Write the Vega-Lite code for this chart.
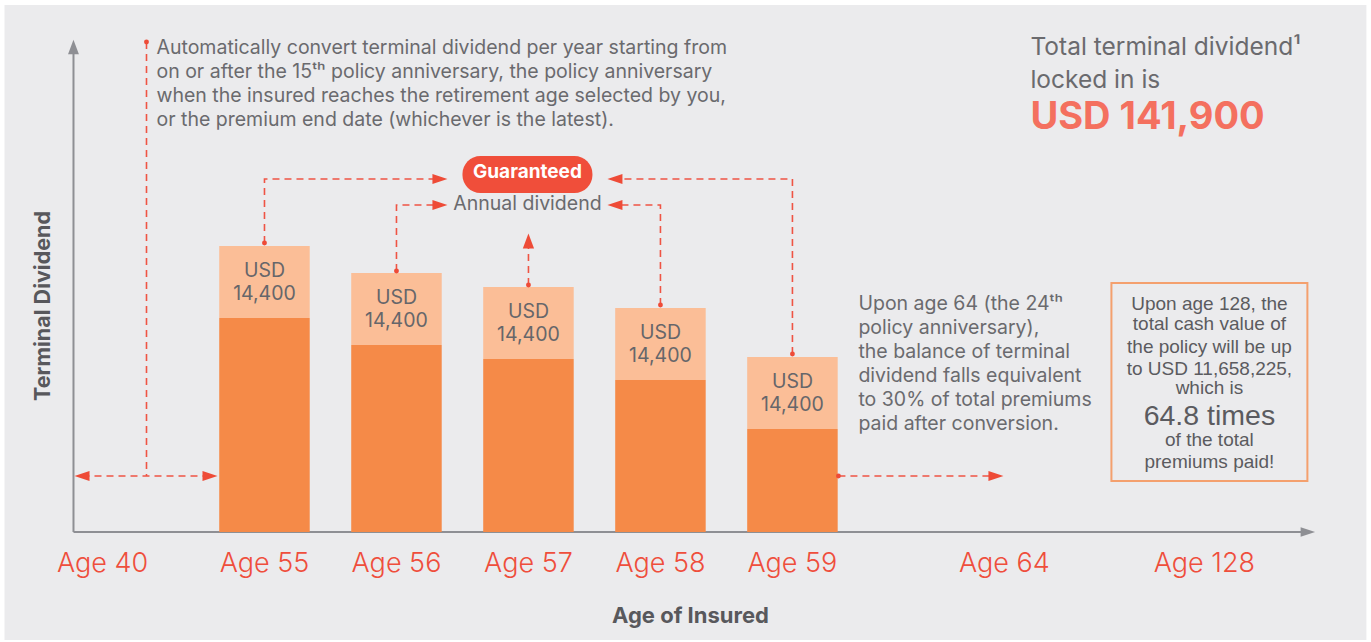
{
  "$schema": "https://vega.github.io/schema/vega-lite/v6.json",
  "width": 1371,
  "height": 642,
  "padding": 0,
  "autosize": {"type": "fit", "contains": "padding"},
  "background": "#ffffff",
  "config": {"view": {"stroke": null}, "font": "Inter"},
  "encoding": {
    "x": {"field": "x", "type": "quantitative", "scale": {"domain": [-0.9659, 9.3455], "nice": false, "zero": false}, "axis": null},
    "y": {"field": "y", "type": "quantitative", "scale": {"domain": [-22000, 106400], "nice": false, "zero": false}, "axis": null}
  },
  "layer": [
    {
      "data": {"values": [{"x": -0.9697, "y": 105400, "x2": 9.3485, "y2": -21600}]},
      "mark": {"type": "rect", "fill": "#EBEBED"},
      "encoding": {"x2": {"field": "x2"}, "y2": {"field": "y2"}}
    },
    {
      "data": {"values": [
        {"x": -0.447, "y": 0, "x2": -0.447, "y2": 95600},
        {"x": -0.447, "y": 0, "x2": 8.8636, "y2": 0}
      ]},
      "mark": {"type": "rule", "stroke": "#8E8F94", "strokeWidth": 2},
      "encoding": {"x2": {"field": "x2"}, "y2": {"field": "y2"}}
    },
    {
      "data": {"values": [
        {"dir": "up", "x": -0.447, "y": 97000},
        {"dir": "right", "x": 8.9053, "y": 0}
      ]},
      "mark": {"type": "point", "filled": true, "fill": "#8E8F94", "opacity": 1, "strokeWidth": 0, "size": 210},
      "encoding": {
        "shape": {"field": "dir", "type": "nominal", "scale": {"domain": ["right", "left", "up"], "range": ["M-1,-0.667L1,0L-1,0.667Z", "M1,-0.667L-1,0L1,0.667Z", "M-0.75,1L0,-1L0.75,1Z"]}, "legend": null}
      }
    },
    {
      "data": {"values": [
        {"age": "Age 55", "slot": 1, "part": "Remaining terminal dividend", "value": 42800},
        {"age": "Age 55", "slot": 1, "part": "Converted annual dividend", "value": 14400},
        {"age": "Age 56", "slot": 2, "part": "Remaining terminal dividend", "value": 37400},
        {"age": "Age 56", "slot": 2, "part": "Converted annual dividend", "value": 14400},
        {"age": "Age 57", "slot": 3, "part": "Remaining terminal dividend", "value": 34600},
        {"age": "Age 57", "slot": 3, "part": "Converted annual dividend", "value": 14400},
        {"age": "Age 58", "slot": 4, "part": "Remaining terminal dividend", "value": 30400},
        {"age": "Age 58", "slot": 4, "part": "Converted annual dividend", "value": 14400},
        {"age": "Age 59", "slot": 5, "part": "Remaining terminal dividend", "value": 20600},
        {"age": "Age 59", "slot": 5, "part": "Converted annual dividend", "value": 14400}
      ]},
      "mark": {"type": "bar", "width": 90.5},
      "encoding": {
        "x": {"field": "slot", "type": "quantitative", "scale": {"domain": [-0.9659, 9.3455], "nice": false, "zero": false}, "axis": null},
        "y": {"field": "value", "type": "quantitative", "stack": "zero", "scale": {"domain": [-22000, 106400], "nice": false, "zero": false}, "axis": null},
        "color": {"field": "part", "type": "nominal", "scale": {"domain": ["Remaining terminal dividend", "Converted annual dividend"], "range": ["#F58A48", "#FBBE97"]}, "legend": null},
        "order": {"field": "part", "sort": "descending"}
      }
    },
    {
      "data": {"values": [
        {"x": 1, "y": 57200, "text": "USD"},
        {"x": 2, "y": 51800, "text": "USD"},
        {"x": 3, "y": 49000, "text": "USD"},
        {"x": 4, "y": 44800, "text": "USD"},
        {"x": 5, "y": 35000, "text": "USD"}
      ]},
      "mark": {"type": "text", "fontSize": 19.5, "color": "#66666A", "align": "center", "baseline": "middle", "dy": 25},
      "encoding": {"text": {"field": "text"}}
    },
    {
      "data": {"values": [
        {"x": 1, "y": 57200, "amount": 14400},
        {"x": 2, "y": 51800, "amount": 14400},
        {"x": 3, "y": 49000, "amount": 14400},
        {"x": 4, "y": 44800, "amount": 14400},
        {"x": 5, "y": 35000, "amount": 14400}
      ]},
      "mark": {"type": "text", "fontSize": 19.5, "color": "#66666A", "align": "center", "baseline": "middle", "dy": 48},
      "encoding": {"text": {"field": "amount", "type": "quantitative", "format": ","}}
    },
    {
      "data": {"values": [
        {"path": "a", "seq": 0, "x": 0.1061, "y": 98000},
        {"path": "a", "seq": 1, "x": 0.1061, "y": 11200},
        {"path": "b", "seq": 0, "x": -0.3788, "y": 11200},
        {"path": "b", "seq": 1, "x": 0.5833, "y": 11200},
        {"path": "c", "seq": 0, "x": 1, "y": 57800},
        {"path": "c", "seq": 1, "x": 1, "y": 70600},
        {"path": "c", "seq": 2, "x": 2.3333, "y": 70600},
        {"path": "d", "seq": 0, "x": 2, "y": 52200},
        {"path": "d", "seq": 1, "x": 2, "y": 65400},
        {"path": "d", "seq": 2, "x": 2.3333, "y": 65400},
        {"path": "e", "seq": 0, "x": 3, "y": 49400},
        {"path": "e", "seq": 1, "x": 3, "y": 57200},
        {"path": "f", "seq": 0, "x": 4, "y": 45400},
        {"path": "f", "seq": 1, "x": 4, "y": 65400},
        {"path": "f", "seq": 2, "x": 3.6591, "y": 65400},
        {"path": "g", "seq": 0, "x": 5, "y": 35600},
        {"path": "g", "seq": 1, "x": 5, "y": 70600},
        {"path": "g", "seq": 2, "x": 3.6591, "y": 70600},
        {"path": "h", "seq": 0, "x": 5.3485, "y": 11200},
        {"path": "h", "seq": 1, "x": 6.5455, "y": 11200}
      ]},
      "mark": {"type": "line", "stroke": "#EF5444", "strokeWidth": 1.6, "strokeDash": [7, 5]},
      "encoding": {"detail": {"field": "path"}, "order": {"field": "seq", "type": "quantitative"}}
    },
    {
      "data": {"values": [
        {"x": 0.1061, "y": 98000},
        {"x": 1, "y": 57800},
        {"x": 2, "y": 52200},
        {"x": 3, "y": 49400},
        {"x": 4, "y": 45400},
        {"x": 5, "y": 35600},
        {"x": 5.3485, "y": 11200}
      ]},
      "mark": {"type": "point", "shape": "circle", "filled": true, "fill": "#EE4B37", "opacity": 1, "strokeWidth": 0, "size": 24}
    },
    {
      "data": {"values": [
        {"dir": "left", "x": -0.3826, "y": 11200},
        {"dir": "right", "x": 0.5871, "y": 11200},
        {"dir": "right", "x": 2.3295, "y": 70600},
        {"dir": "right", "x": 2.3295, "y": 65400},
        {"dir": "up", "x": 3, "y": 58200},
        {"dir": "left", "x": 3.6553, "y": 65400},
        {"dir": "left", "x": 3.6553, "y": 70600},
        {"dir": "right", "x": 6.5417, "y": 11200}
      ]},
      "mark": {"type": "point", "filled": true, "fill": "#EE4B37", "opacity": 1, "strokeWidth": 0, "size": 225},
      "encoding": {
        "shape": {"field": "dir", "type": "nominal", "scale": {"domain": ["right", "left", "up"], "range": ["M-1,-0.667L1,0L-1,0.667Z", "M1,-0.667L-1,0L1,0.667Z", "M-0.667,1L0,-1L0.667,1Z"]}, "legend": null}
      }
    },
    {
      "data": {"values": [{"x": 2.5, "y": 75200, "x2": 3.4848, "y2": 67800}]},
      "mark": {"type": "rect", "fill": "#F04E3A", "cornerRadius": 18},
      "encoding": {"x2": {"field": "x2"}, "y2": {"field": "y2"}}
    },
    {
      "data": {"values": [{"x": 2.9924, "y": 72000, "text": "Guaranteed"}]},
      "mark": {"type": "text", "fontSize": 19, "fontWeight": "bold", "color": "#FFFFFF", "align": "center", "baseline": "middle"},
      "encoding": {"text": {"field": "text"}}
    },
    {
      "data": {"values": [{"x": 2.9924, "y": 65600, "text": "Annual dividend"}]},
      "mark": {"type": "text", "fontSize": 19.5, "color": "#6A6A6E", "align": "center", "baseline": "middle"},
      "encoding": {"text": {"field": "text"}}
    },
    {
      "data": {"values": [
        {"x": 0.1818, "y": 96800, "text": "Automatically convert terminal dividend per year starting from"},
        {"x": 0.1818, "y": 92000, "text": "on or after the 15ᵗʰ policy anniversary, the policy anniversary"},
        {"x": 0.1818, "y": 87200, "text": "when the insured reaches the retirement age selected by you,"},
        {"x": 0.1818, "y": 82400, "text": "or the premium end date (whichever is the latest)."}
      ]},
      "mark": {"type": "text", "fontSize": 19.5, "color": "#6A6A6E", "align": "left", "baseline": "middle"},
      "encoding": {"text": {"field": "text"}}
    },
    {
      "data": {"values": [
        {"x": 6.803, "y": 96800, "text": "Total terminal dividend¹"},
        {"x": 6.803, "y": 90300, "text": "locked in is"}
      ]},
      "mark": {"type": "text", "fontSize": 24.5, "color": "#6A6A6E", "align": "left", "baseline": "middle"},
      "encoding": {"text": {"field": "text"}}
    },
    {
      "data": {"values": [{"x": 6.803, "y": 82800, "text": "USD 141,900"}]},
      "mark": {"type": "text", "fontSize": 38, "fontWeight": "bold", "color": "#F4705F", "align": "left", "baseline": "middle"},
      "encoding": {"text": {"field": "text"}}
    },
    {
      "data": {"values": [
        {"x": 5.5, "y": 45600, "text": "Upon age 64 (the 24ᵗʰ"},
        {"x": 5.5, "y": 40800, "text": "policy anniversary),"},
        {"x": 5.5, "y": 36000, "text": "the balance of terminal"},
        {"x": 5.5, "y": 31200, "text": "dividend falls equivalent"},
        {"x": 5.5, "y": 26400, "text": "to 30% of total premiums"},
        {"x": 5.5, "y": 21600, "text": "paid after conversion."}
      ]},
      "mark": {"type": "text", "fontSize": 19.5, "color": "#6A6A6E", "align": "left", "baseline": "middle"},
      "encoding": {"text": {"field": "text"}}
    },
    {
      "data": {"values": [{"x": 7.4167, "y": 49800, "x2": 8.9015, "y2": 10200}]},
      "mark": {"type": "rect", "filled": false, "stroke": "#F4A06E", "strokeWidth": 2},
      "encoding": {"x2": {"field": "x2"}, "y2": {"field": "y2"}}
    },
    {
      "data": {"values": [
        {"x": 8.1591, "y": 45600, "text": "Upon age 128, the"},
        {"x": 8.1591, "y": 41600, "text": "total cash value of"},
        {"x": 8.1591, "y": 37000, "text": "the policy will be up"},
        {"x": 8.1591, "y": 32600, "text": "to USD 11,658,225,"},
        {"x": 8.1591, "y": 28800, "text": "which is"},
        {"x": 8.1591, "y": 18400, "text": "of the total"},
        {"x": 8.1591, "y": 14000, "text": "premiums paid!"}
      ]},
      "mark": {"type": "text", "font": "Liberation Sans", "fontSize": 19, "color": "#5B5B5F", "align": "center", "baseline": "middle"},
      "encoding": {"text": {"field": "text"}}
    },
    {
      "data": {"values": [{"x": 8.1591, "y": 23200, "text": "64.8 times"}]},
      "mark": {"type": "text", "font": "Liberation Sans", "fontSize": 28.5, "color": "#5B5B5F", "align": "center", "baseline": "middle"},
      "encoding": {"text": {"field": "text"}}
    },
    {
      "data": {"values": [
        {"x": -0.2273, "y": -6400, "text": "Age 40"},
        {"x": 1, "y": -6400, "text": "Age 55"},
        {"x": 2, "y": -6400, "text": "Age 56"},
        {"x": 3, "y": -6400, "text": "Age 57"},
        {"x": 4, "y": -6400, "text": "Age 58"},
        {"x": 5, "y": -6400, "text": "Age 59"},
        {"x": 6.6061, "y": -6400, "text": "Age 64"},
        {"x": 8.1212, "y": -6400, "text": "Age 128"}
      ]},
      "mark": {"type": "text", "fontSize": 27, "fontWeight": 300, "color": "#EF4E3C", "align": "center", "baseline": "middle"},
      "encoding": {"text": {"field": "text"}}
    },
    {
      "data": {"values": [{"x": 4.2273, "y": -16800, "text": "Age of Insured"}]},
      "mark": {"type": "text", "fontSize": 22, "fontWeight": "bold", "color": "#58585C", "align": "center", "baseline": "middle"},
      "encoding": {"text": {"field": "text"}}
    },
    {
      "data": {"values": [{"x": -0.6742, "y": 45200, "text": "Terminal Dividend"}]},
      "mark": {"type": "text", "fontSize": 21.5, "fontWeight": "bold", "color": "#58585C", "align": "center", "baseline": "middle", "angle": 270},
      "encoding": {"text": {"field": "text"}}
    }
  ]
}
